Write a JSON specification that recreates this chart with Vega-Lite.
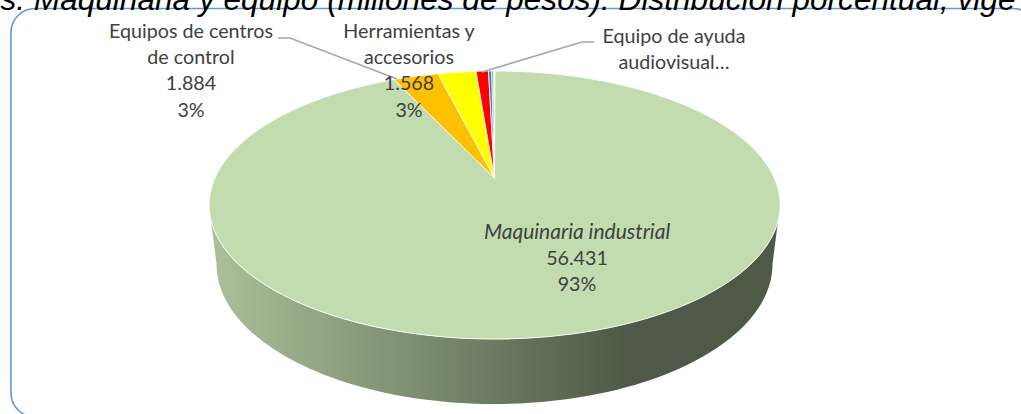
{
  "$schema": "https://vega.github.io/schema/vega-lite/v6.json",
  "autosize": "none",
  "width": 1021,
  "height": 414,
  "padding": 0,
  "background": "white",
  "config": {"view": {"stroke": null}},
  "data": {"values": [
    {"categoria": "Maquinaria industrial", "valor": 56431, "porcentaje": 93},
    {"categoria": "Equipos de centros de control", "valor": 1884, "porcentaje": 3},
    {"categoria": "Herramientas y accesorios", "valor": 1568, "porcentaje": 3},
    {"categoria": "Equipo de ayuda audiovisual…", "valor": 600, "porcentaje": 1},
    {"categoria": "Otros equipos", "valor": 170, "porcentaje": 0},
    {"categoria": "Equipos varios", "valor": 80, "porcentaje": 0}
  ]},
  "layer": [
    {
      "transform": [{"filter": "datum.categoria === 'Maquinaria industrial'"}],
      "mark": {"type": "point", "filled": false, "fill": null, "stroke": "#5B9BD5", "strokeWidth": 1.6, "opacity": 1, "size": 4,
        "shape": "M -499.5 -174.5 A 24 24 0 0 1 -475.5 -198.5 L 502.5 -198.5 A 24 24 0 0 1 526.5 -174.5 L 526.5 186 A 24 24 0 0 1 502.5 210 L -475.5 210 A 24 24 0 0 1 -499.5 186 Z"},
      "encoding": {}
    },
    {
      "transform": [{"filter": "datum.categoria === 'Maquinaria industrial'"}],
      "mark": {"type": "point", "filled": true, "opacity": 1, "size": 4, "strokeWidth": 0,
        "fill": {"gradient": "linear", "x1": 0, "y1": 0, "x2": 1, "y2": 0, "stops": [
          {"offset": 0, "color": "#ABC09A"},
          {"offset": 0.727, "color": "#4E5A47"},
          {"offset": 1, "color": "#4E5A47"}
        ]},
        "shape": "M -299.5 14 A 285.5 134 0 0 0 267.5 14 L 262 57 A 278 140 0 0 1 -294 57 Z"},
      "encoding": {}
    },
    {
      "mark": {"type": "point", "filled": true, "opacity": 1, "size": 4, "stroke": "white", "strokeWidth": 0.8},
      "encoding": {
        "shape": {"field": "categoria", "type": "nominal", "legend": null, "scale": {
          "domain": ["Maquinaria industrial", "Equipos de centros de control", "Herramientas y accesorios", "Equipo de ayuda audiovisual…", "Otros equipos", "Equipos varios"],
          "range": [
            "M -16 -29 L -15.5 -136 A 285.5 134 0 1 1 -116.5 -127.4 Z",
            "M -16 -29 L -116.5 -127.4 A 285.5 134 0 0 1 -72.5 -133.3 Z",
            "M -16 -29 L -72.5 -133.3 A 285.5 134 0 0 1 -34.5 -135.7 Z",
            "M -16 -29 L -34.5 -135.7 A 285.5 134 0 0 1 -22 -136 Z",
            "M -16 -29 L -22 -136 A 285.5 134 0 0 1 -18.8 -136 Z",
            "M -16 -29 L -18.8 -136 A 285.5 134 0 0 1 -17 -136 Z"
          ]}},
        "fill": {"field": "categoria", "type": "nominal", "legend": null, "scale": {
          "domain": ["Maquinaria industrial", "Equipos de centros de control", "Herramientas y accesorios", "Equipo de ayuda audiovisual…", "Otros equipos", "Equipos varios"],
          "range": ["#C3DCAF", "#FFC000", "#FFFF00", "#FF0000", "#4472C4", "#70AD47"]}}
      }
    },
    {
      "transform": [{"filter": "datum.categoria === 'Equipos de centros de control'"}],
      "mark": {"type": "point", "filled": false, "fill": null, "stroke": "#A6A6A6", "strokeWidth": 1.6, "opacity": 1, "size": 4,
        "shape": "M -232.5 -169 L -220.5 -169 L -113.5 -128"},
      "encoding": {}
    },
    {
      "transform": [{"filter": "datum.categoria === 'Equipo de ayuda audiovisual…'"}],
      "mark": {"type": "point", "filled": false, "fill": null, "stroke": "#A6A6A6", "strokeWidth": 1.6, "opacity": 1, "size": 4,
        "shape": "M 83.5 -165 L 71.5 -165 L -28.5 -135"},
      "encoding": {}
    },
    {
      "transform": [{"filter": "datum.categoria === 'Equipos de centros de control'"}],
      "mark": {"type": "text", "font": "Lato", "fontSize": 19.7, "color": "#404040", "align": "center", "lineBreak": "\n", "lineHeight": 26.2, "dx": -319.5, "dy": -175},
      "encoding": {"text": {"value": "Equipos de centros\nde control\n1.884\n3%"}}
    },
    {
      "transform": [{"filter": "datum.categoria === 'Herramientas y accesorios'"}],
      "mark": {"type": "text", "font": "Lato", "fontSize": 19.7, "color": "#404040", "align": "center", "lineBreak": "\n", "lineHeight": 26.2, "dx": -101.5, "dy": -175},
      "encoding": {"text": {"value": "Herramientas y\naccesorios\n1.568\n3%"}}
    },
    {
      "transform": [{"filter": "datum.categoria === 'Equipo de ayuda audiovisual…'"}],
      "mark": {"type": "text", "font": "Lato", "fontSize": 19.7, "color": "#404040", "align": "center", "lineBreak": "\n", "lineHeight": 26.2, "dx": 163.5, "dy": -170},
      "encoding": {"text": {"value": "Equipo de ayuda\naudiovisual…"}}
    },
    {
      "transform": [{"filter": "datum.categoria === 'Maquinaria industrial'"}],
      "mark": {"type": "text", "font": "Lato", "fontSize": 21, "fontStyle": "italic", "color": "#404040", "align": "center", "dx": 66.5, "dy": 26},
      "encoding": {"text": {"value": "Maquinaria industrial"}}
    },
    {
      "transform": [{"filter": "datum.categoria === 'Maquinaria industrial'"}],
      "mark": {"type": "text", "font": "Lato", "fontSize": 19.7, "color": "#404040", "align": "center", "lineBreak": "\n", "lineHeight": 26.2, "dx": 66.5, "dy": 52},
      "encoding": {"text": {"value": "56.431\n93%"}}
    },
    {
      "transform": [{"filter": "datum.categoria === 'Maquinaria industrial'"}],
      "mark": {"type": "text", "font": "Liberation Sans", "fontSize": 31.6, "fontStyle": "italic", "color": "#000000", "align": "right", "baseline": "alphabetic", "dx": 505, "dy": -197.5},
      "encoding": {"text": {"value": "s: Maquinaria y equipo (millones de pesos). Distribución porcentual, vige"}}
    }
  ]
}
